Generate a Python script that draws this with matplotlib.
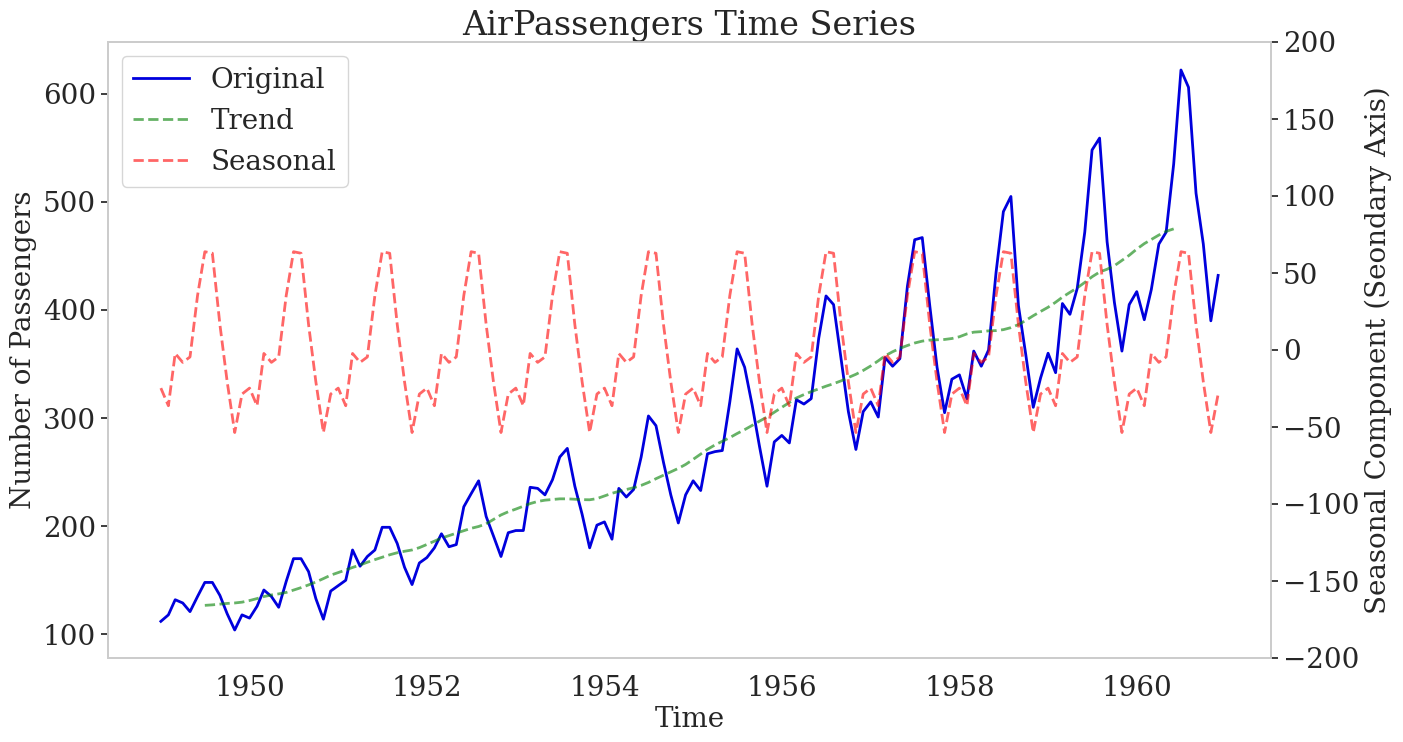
import matplotlib
matplotlib.use("Agg")
import matplotlib.pyplot as plt
import pandas as pd
import numpy as np

dates = pd.date_range("1949-01-01", "1960-12-01", freq="MS")

passengers = [
    112, 118, 132, 129, 121, 135, 148, 148, 136, 119, 104, 118,
    115, 126, 141, 135, 125, 149, 170, 170, 158, 133, 114, 140,
    145, 150, 178, 163, 172, 178, 199, 199, 184, 162, 146, 166,
    171, 180, 193, 181, 183, 218, 230, 242, 209, 191, 172, 194,
    196, 196, 236, 235, 229, 243, 264, 272, 237, 211, 180, 201,
    204, 188, 235, 227, 234, 264, 302, 293, 259, 229, 203, 229,
    242, 233, 267, 269, 270, 315, 364, 347, 312, 274, 237, 278,
    284, 277, 317, 313, 318, 374, 413, 405, 355, 306, 271, 306,
    315, 301, 356, 348, 355, 422, 465, 467, 404, 347, 305, 336,
    340, 318, 362, 348, 363, 435, 491, 505, 404, 359, 310, 337,
    360, 342, 406, 396, 420, 472, 548, 559, 463, 407, 362, 405,
    417, 391, 419, 461, 472, 535, 622, 606, 508, 461, 390, 432,
]

nan = float("nan")
trend = [
    nan, nan, nan, nan, nan, nan, 126.79, 127.25, 127.96, 128.58, 129.00, 129.75,
    131.25, 133.08, 134.92, 136.42, 137.42, 138.75, 140.92, 143.17, 145.71, 148.42, 151.54, 154.71,
    157.12, 159.54, 161.83, 164.12, 166.67, 169.08, 171.25, 173.58, 175.46, 176.83, 178.04, 180.17,
    183.12, 186.21, 189.04, 191.29, 193.58, 195.83, 198.04, 199.75, 202.21, 206.25, 210.42, 213.38,
    215.83, 218.50, 220.92, 222.92, 224.08, 224.71, 225.33, 225.33, 224.96, 224.58, 224.46, 225.54,
    228.00, 230.46, 232.25, 233.92, 235.62, 237.75, 240.50, 243.96, 247.17, 250.25, 253.50, 257.12,
    261.83, 266.67, 271.12, 275.21, 278.50, 281.96, 285.75, 289.33, 293.25, 297.17, 301.00, 305.46,
    309.96, 314.42, 318.62, 321.75, 324.50, 327.08, 329.54, 331.83, 334.46, 337.54, 340.54, 344.08,
    348.25, 353.00, 357.62, 361.38, 364.50, 367.17, 369.46, 371.21, 372.17, 372.42, 372.75, 373.62,
    375.25, 377.92, 379.50, 380.00, 380.71, 380.96, 381.83, 383.67, 386.50, 390.33, 394.71, 398.62,
    402.54, 407.17, 411.88, 416.33, 420.50, 425.50, 430.71, 435.12, 437.71, 440.96, 445.83, 450.62,
    456.33, 461.38, 465.21, 469.33, 472.75, 475.04, nan, nan, nan, nan, nan, nan,
]

seasonal = [
    -24.75, -36.19, -2.24, -8.04, -4.51, 35.40, 63.83, 62.82, 16.52, -20.64, -53.59, -28.62,
    -24.75, -36.19, -2.24, -8.04, -4.51, 35.40, 63.83, 62.82, 16.52, -20.64, -53.59, -28.62,
    -24.75, -36.19, -2.24, -8.04, -4.51, 35.40, 63.83, 62.82, 16.52, -20.64, -53.59, -28.62,
    -24.75, -36.19, -2.24, -8.04, -4.51, 35.40, 63.83, 62.82, 16.52, -20.64, -53.59, -28.62,
    -24.75, -36.19, -2.24, -8.04, -4.51, 35.40, 63.83, 62.82, 16.52, -20.64, -53.59, -28.62,
    -24.75, -36.19, -2.24, -8.04, -4.51, 35.40, 63.83, 62.82, 16.52, -20.64, -53.59, -28.62,
    -24.75, -36.19, -2.24, -8.04, -4.51, 35.40, 63.83, 62.82, 16.52, -20.64, -53.59, -28.62,
    -24.75, -36.19, -2.24, -8.04, -4.51, 35.40, 63.83, 62.82, 16.52, -20.64, -53.59, -28.62,
    -24.75, -36.19, -2.24, -8.04, -4.51, 35.40, 63.83, 62.82, 16.52, -20.64, -53.59, -28.62,
    -24.75, -36.19, -2.24, -8.04, -4.51, 35.40, 63.83, 62.82, 16.52, -20.64, -53.59, -28.62,
    -24.75, -36.19, -2.24, -8.04, -4.51, 35.40, 63.83, 62.82, 16.52, -20.64, -53.59, -28.62,
    -24.75, -36.19, -2.24, -8.04, -4.51, 35.40, 63.83, 62.82, 16.52, -20.64, -53.59, -28.62,
]

plt.rcParams["font.family"] = ["DejaVu Serif"]
plt.rcParams["text.color"] = "#262626"
plt.rcParams["axes.labelcolor"] = "#262626"
plt.rcParams["xtick.color"] = "#262626"
plt.rcParams["ytick.color"] = "#262626"

fig = plt.figure(figsize=(14.03, 7.42), dpi=100)
ax = fig.add_axes([108 / 1403, 1 - 658 / 742, (1271 - 108) / 1403, (658 - 42) / 742])

l1, = ax.plot(dates, passengers, color="#0000dd", lw=2, label="Original")
l2, = ax.plot(dates, trend, color="green", lw=2, ls="--", alpha=0.6, label="Trend")
ax.set_ylabel("Number of Passengers", fontsize=20)
ax.set_xlabel("Time", fontsize=20, labelpad=3)
ax.set_title("AirPassengers Time Series", fontsize=24, pad=5)

ax2 = ax.twinx()
l3, = ax2.plot(dates, seasonal, color="red", lw=2, ls="--", alpha=0.6, label="Seasonal")
ax2.set_ylim(-200, 200)
ax2.set_ylabel("Seasonal Component (Seondary Axis)", fontsize=20)

for a in (ax, ax2):
    for s in a.spines.values():
        s.set_color("#cccccc")
        s.set_linewidth(1.25)
    a.grid(False)
    a.tick_params(axis="both", labelsize=20)

ax.tick_params(axis="y", length=5, width=1.25, color="#262626")
ax.tick_params(axis="x", length=0, pad=12)
ax2.tick_params(axis="y", length=5, width=1.25, color="#262626")

leg = ax.legend(handles=[l1, l2, l3], loc="upper left", fontsize=20,
                frameon=True, edgecolor="#cccccc", fancybox=True)
leg.get_frame().set_linewidth(1.0)

fig.savefig("out.png", dpi=100)
